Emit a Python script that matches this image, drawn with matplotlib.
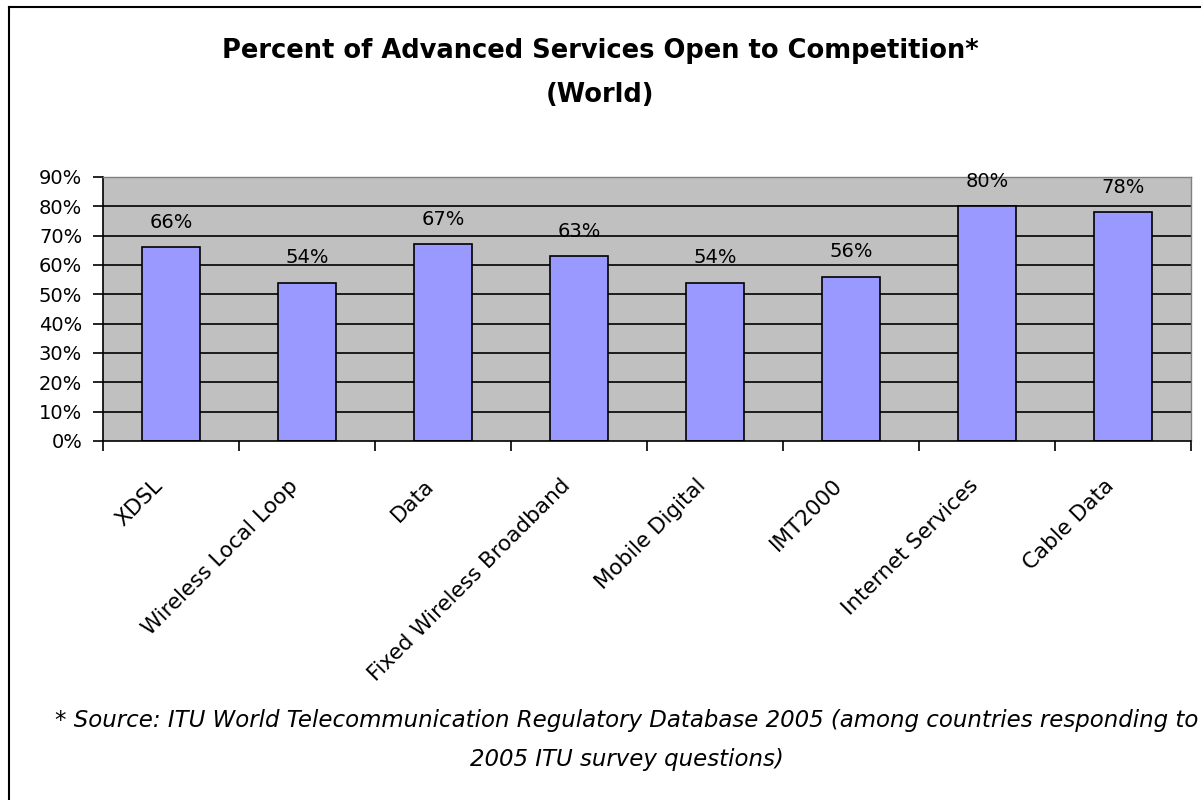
import numpy as np
import matplotlib.pyplot as plt
from matplotlib.lines import Line2D
from matplotlib.transforms import ScaledTranslation

categorias = ['XDSL', 'Wireless Local Loop', 'Data', 'Fixed Wireless Broadband',
              'Mobile Digital', 'IMT2000', 'Internet Services', 'Cable Data']
porcentajes = [66, 54, 67, 63, 54, 56, 80, 78]
ticks_y = [0, 10, 20, 30, 40, 50, 60, 70, 80, 90]

titulo = 'Percent of Advanced Services Open to Competition*\n(World)'
nota = ('* Source: ITU World Telecommunication Regulatory Database 2005 (among countries responding to\n'
        '2005 ITU survey questions)')

fuente = 'DejaVu Sans'
tam = 14

fig = plt.figure(figsize=(12.01, 8), dpi=100)
fig.patch.set_facecolor('white')

# marco del grafico (solo se ven los bordes izquierdo y superior)
fig.add_artist(Line2D([9 / 1201, 9 / 1201], [0, 1 - 7 / 800], color='black', lw=1.5,
                      transform=fig.transFigure))
fig.add_artist(Line2D([9 / 1201, 1], [1 - 7 / 800, 1 - 7 / 800], color='black', lw=1.5,
                      transform=fig.transFigure))

ax = fig.add_axes([103 / 1201, 1 - 441 / 800, (1191 - 103) / 1201, (441 - 177) / 800])
ax.set_facecolor('#C0C0C0')

x = np.arange(len(categorias))

# lineas de cuadricula
for v in ticks_y[1:-1]:
    ax.axhline(v, color='black', lw=1.2, zorder=1)

barras = ax.bar(x, porcentajes, width=0.43, color='#9999FF', edgecolor='black',
                linewidth=1.2, zorder=2)

for xi, v in zip(x, porcentajes):
    ax.annotate(f'{v}%', (xi, v), xytext=(0, 11), textcoords='offset points',
                ha='center', va='bottom', fontsize=tam, family=fuente, zorder=3)

ax.set_xlim(-0.5, len(categorias) - 0.5)
ax.set_ylim(0, 90)

ax.set_yticks(ticks_y)
ax.set_yticklabels([f'{t}%' for t in ticks_y], fontsize=tam, family=fuente)
ax.tick_params(axis='y', length=7, width=1.2, pad=8)

ax.set_xticks(x)
ax.set_xticklabels(categorias, rotation=45, ha='right', va='center', rotation_mode='anchor',
                   fontsize=15.5, family=fuente)
ax.tick_params(axis='x', which='major', length=0, pad=30)
desplaza = ScaledTranslation(-12 / 100, 0, fig.dpi_scale_trans)
for etiqueta in ax.get_xticklabels():
    etiqueta.set_transform(etiqueta.get_transform() + desplaza)
ax.set_xticks(np.arange(len(categorias) + 1) - 0.5, minor=True)
ax.tick_params(axis='x', which='minor', length=7, width=1.2)

for lado in ['left', 'bottom']:
    ax.spines[lado].set_color('black')
    ax.spines[lado].set_linewidth(1.2)
for lado in ['top', 'right']:
    ax.spines[lado].set_color('#808080')
    ax.spines[lado].set_linewidth(1.0)

fig.text(600 / 1201, 1 - 73 / 800, titulo, ha='center', va='center', fontsize=18.5,
         fontweight='bold', family=fuente, linespacing=1.85)
fig.text(627 / 1201, 1 - 740 / 800, nota, ha='center', va='center', fontsize=16.5,
         style='italic', family=fuente, linespacing=1.85)

fig.savefig('out.png', dpi=100)
